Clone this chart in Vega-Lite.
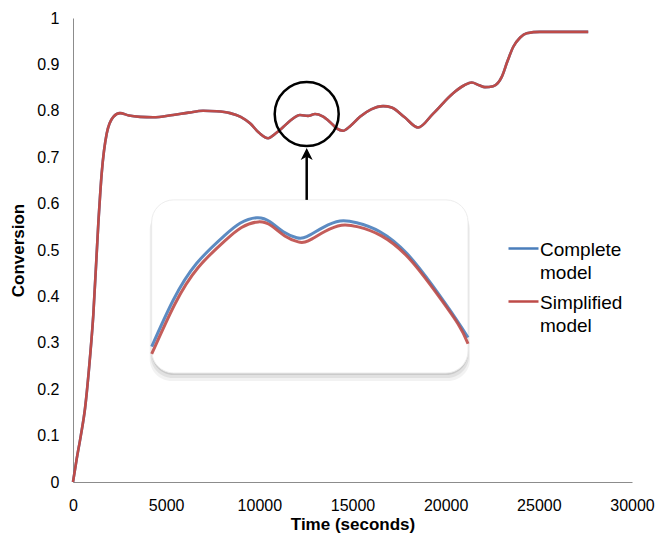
{
  "$schema": "https://vega.github.io/schema/vega-lite/v6.json",
  "width": 559,
  "height": 464,
  "autosize": {"type": "none"},
  "padding": {"left": 73, "top": 18, "right": 23, "bottom": 53},
  "background": "white",
  "config": {
    "view": {"stroke": null},
    "font": "Liberation Sans",
    "axis": {
      "domainColor": "#8c8c8c",
      "domainWidth": 1,
      "ticks": false,
      "grid": false,
      "labelFlush": false,
      "labelFont": "Liberation Sans",
      "labelFontSize": 16,
      "labelColor": "#000000",
      "titleFont": "Liberation Sans",
      "titleFontSize": 17,
      "titleFontWeight": "bold",
      "titleColor": "#000000"
    }
  },
  "datasets": {
    "main": [
      {"t": 0, "Complete model": 0, "Simplified model": 0},
      {"t": 200, "Complete model": 0.05, "Simplified model": 0.05},
      {"t": 420, "Complete model": 0.1, "Simplified model": 0.1},
      {"t": 650, "Complete model": 0.16, "Simplified model": 0.16},
      {"t": 850, "Complete model": 0.24, "Simplified model": 0.24},
      {"t": 1090, "Complete model": 0.36, "Simplified model": 0.36},
      {"t": 1360, "Complete model": 0.558, "Simplified model": 0.558},
      {"t": 1540, "Complete model": 0.665, "Simplified model": 0.665},
      {"t": 1810, "Complete model": 0.751, "Simplified model": 0.751},
      {"t": 2165, "Complete model": 0.787, "Simplified model": 0.787},
      {"t": 2520, "Complete model": 0.795, "Simplified model": 0.795},
      {"t": 3000, "Complete model": 0.79, "Simplified model": 0.79},
      {"t": 3600, "Complete model": 0.787, "Simplified model": 0.787},
      {"t": 4300, "Complete model": 0.786, "Simplified model": 0.786},
      {"t": 5370, "Complete model": 0.791, "Simplified model": 0.791},
      {"t": 6200, "Complete model": 0.796, "Simplified model": 0.796},
      {"t": 6980, "Complete model": 0.8, "Simplified model": 0.8},
      {"t": 7700, "Complete model": 0.799, "Simplified model": 0.799},
      {"t": 8430, "Complete model": 0.795, "Simplified model": 0.795},
      {"t": 9000, "Complete model": 0.787, "Simplified model": 0.787},
      {"t": 9500, "Complete model": 0.773, "Simplified model": 0.773},
      {"t": 10000, "Complete model": 0.752, "Simplified model": 0.752},
      {"t": 10470, "Complete model": 0.741, "Simplified model": 0.741},
      {"t": 10900, "Complete model": 0.752, "Simplified model": 0.752},
      {"t": 11280, "Complete model": 0.765, "Simplified model": 0.765},
      {"t": 11700, "Complete model": 0.78, "Simplified model": 0.78},
      {"t": 12180, "Complete model": 0.791, "Simplified model": 0.791},
      {"t": 12610, "Complete model": 0.789, "Simplified model": 0.789},
      {"t": 12990, "Complete model": 0.793, "Simplified model": 0.793},
      {"t": 13400, "Complete model": 0.788, "Simplified model": 0.788},
      {"t": 13790, "Complete model": 0.776, "Simplified model": 0.776},
      {"t": 14150, "Complete model": 0.762, "Simplified model": 0.762},
      {"t": 14490, "Complete model": 0.757, "Simplified model": 0.757},
      {"t": 14900, "Complete model": 0.768, "Simplified model": 0.768},
      {"t": 15400, "Complete model": 0.787, "Simplified model": 0.787},
      {"t": 16000, "Complete model": 0.803, "Simplified model": 0.803},
      {"t": 16640, "Complete model": 0.81, "Simplified model": 0.81},
      {"t": 17100, "Complete model": 0.807, "Simplified model": 0.807},
      {"t": 17800, "Complete model": 0.786, "Simplified model": 0.786},
      {"t": 18520, "Complete model": 0.764, "Simplified model": 0.764},
      {"t": 19330, "Complete model": 0.794, "Simplified model": 0.794},
      {"t": 20400, "Complete model": 0.838, "Simplified model": 0.838},
      {"t": 21000, "Complete model": 0.855, "Simplified model": 0.855},
      {"t": 21400, "Complete model": 0.861, "Simplified model": 0.861},
      {"t": 21800, "Complete model": 0.855, "Simplified model": 0.855},
      {"t": 22110, "Complete model": 0.851, "Simplified model": 0.851},
      {"t": 22550, "Complete model": 0.853, "Simplified model": 0.853},
      {"t": 23010, "Complete model": 0.873, "Simplified model": 0.873},
      {"t": 23300, "Complete model": 0.905, "Simplified model": 0.905},
      {"t": 23630, "Complete model": 0.938, "Simplified model": 0.938},
      {"t": 24000, "Complete model": 0.958, "Simplified model": 0.958},
      {"t": 24350, "Complete model": 0.967, "Simplified model": 0.967},
      {"t": 25060, "Complete model": 0.97, "Simplified model": 0.97},
      {"t": 26000, "Complete model": 0.97, "Simplified model": 0.97},
      {"t": 27650, "Complete model": 0.97, "Simplified model": 0.97}
    ],
    "inset": [
      {"series": "Complete model", "t": 4224, "c": 0.2916},
      {"series": "Complete model", "t": 5383, "c": 0.3922},
      {"series": "Complete model", "t": 6639, "c": 0.4713},
      {"series": "Complete model", "t": 8067, "c": 0.5287},
      {"series": "Complete model", "t": 8963, "c": 0.5575},
      {"series": "Complete model", "t": 9859, "c": 0.5696},
      {"series": "Complete model", "t": 10573, "c": 0.561},
      {"series": "Complete model", "t": 11287, "c": 0.5394},
      {"series": "Complete model", "t": 12006, "c": 0.5265},
      {"series": "Complete model", "t": 12543, "c": 0.5287},
      {"series": "Complete model", "t": 13434, "c": 0.5489},
      {"series": "Complete model", "t": 14330, "c": 0.5625},
      {"series": "Complete model", "t": 15226, "c": 0.5588},
      {"series": "Complete model", "t": 16477, "c": 0.5394},
      {"series": "Complete model", "t": 17910, "c": 0.4929},
      {"series": "Complete model", "t": 19337, "c": 0.4209},
      {"series": "Complete model", "t": 20593, "c": 0.3491},
      {"series": "Complete model", "t": 21200, "c": 0.3114},
      {"series": "Simplified model", "t": 4224, "c": 0.276},
      {"series": "Simplified model", "t": 5463, "c": 0.3832},
      {"series": "Simplified model", "t": 6719, "c": 0.4623},
      {"series": "Simplified model", "t": 8147, "c": 0.5197},
      {"series": "Simplified model", "t": 9043, "c": 0.5485},
      {"series": "Simplified model", "t": 9939, "c": 0.5606},
      {"series": "Simplified model", "t": 10653, "c": 0.552},
      {"series": "Simplified model", "t": 11367, "c": 0.5304},
      {"series": "Simplified model", "t": 12086, "c": 0.5175},
      {"series": "Simplified model", "t": 12623, "c": 0.5197},
      {"series": "Simplified model", "t": 13514, "c": 0.5399},
      {"series": "Simplified model", "t": 14410, "c": 0.5535},
      {"series": "Simplified model", "t": 15306, "c": 0.5498},
      {"series": "Simplified model", "t": 16557, "c": 0.5304},
      {"series": "Simplified model", "t": 17990, "c": 0.4839},
      {"series": "Simplified model", "t": 19417, "c": 0.4119},
      {"series": "Simplified model", "t": 20673, "c": 0.3401},
      {"series": "Simplified model", "t": 21200, "c": 0.298}
    ],
    "box": [{"t1": 4224, "t2": 21200, "c1": 0.608, "c2": 0.235}],
    "focus": [{"t": 12542, "c": 0.793}],
    "arrow": [{"t": 12542, "c1": 0.608, "c2": 0.702, "tip": 0.7067}]
  },
  "layer": [
    {
      "data": {"name": "box"},
      "mark": {"type": "rect", "cornerRadius": 22, "fill": "#808080", "opacity": 0.1, "yOffset": 8, "y2Offset": 8, "xOffset": -2, "x2Offset": 2},
      "encoding": {
        "x": {"field": "t1", "type": "quantitative", "scale": {"domain": [0, 30000], "nice": false}},
        "x2": {"field": "t2"},
        "y": {"field": "c1", "type": "quantitative", "scale": {"domain": [0, 1], "nice": false}},
        "y2": {"field": "c2"}
      }
    },
    {
      "data": {"name": "box"},
      "mark": {"type": "rect", "cornerRadius": 22, "fill": "#808080", "opacity": 0.14, "yOffset": 5, "y2Offset": 5, "xOffset": -1, "x2Offset": 1},
      "encoding": {
        "x": {"field": "t1", "type": "quantitative"},
        "x2": {"field": "t2"},
        "y": {"field": "c1", "type": "quantitative"},
        "y2": {"field": "c2"}
      }
    },
    {
      "data": {"name": "box"},
      "mark": {"type": "rect", "cornerRadius": 22, "fill": "#707070", "opacity": 0.2, "yOffset": 2, "y2Offset": 2},
      "encoding": {
        "x": {"field": "t1", "type": "quantitative"},
        "x2": {"field": "t2"},
        "y": {"field": "c1", "type": "quantitative"},
        "y2": {"field": "c2"}
      }
    },
    {
      "data": {"name": "box"},
      "mark": {"type": "rect", "cornerRadius": 22, "fill": "white", "stroke": "#ededed", "strokeWidth": 1},
      "encoding": {
        "x": {"field": "t1", "type": "quantitative"},
        "x2": {"field": "t2"},
        "y": {"field": "c1", "type": "quantitative"},
        "y2": {"field": "c2"}
      }
    },
    {
      "data": {"name": "inset"},
      "mark": {"type": "line", "interpolate": "natural", "strokeWidth": 3, "opacity": 0.9},
      "encoding": {
        "x": {"field": "t", "type": "quantitative"},
        "y": {"field": "c", "type": "quantitative"},
        "color": {"field": "series", "type": "nominal"}
      }
    },
    {
      "data": {"name": "main"},
      "transform": [{"fold": ["Complete model", "Simplified model"], "as": ["series", "c"]}],
      "mark": {"type": "line", "interpolate": "monotone", "strokeWidth": 2.6},
      "encoding": {
        "x": {
          "field": "t", "type": "quantitative",
          "axis": {"title": "Time (seconds)", "values": [0, 5000, 10000, 15000, 20000, 25000, 30000], "format": "d", "labelPadding": 15, "titlePadding": 3}
        },
        "y": {
          "field": "c", "type": "quantitative",
          "axis": {"title": "Conversion", "values": [0, 0.1, 0.2, 0.3, 0.4, 0.5, 0.6, 0.7, 0.8, 0.9, 1], "format": "~g", "labelPadding": 14, "titlePadding": 9}
        },
        "color": {
          "field": "series", "type": "nominal",
          "scale": {"domain": ["Complete model", "Simplified model"], "range": ["#4a7ebb", "#be4b48"]},
          "legend": {
            "title": null,
            "orient": "none",
            "legendX": 434,
            "legendY": 214,
            "symbolType": "stroke",
            "symbolSize": 900,
            "symbolStrokeWidth": 2.5,
            "labelFont": "Liberation Sans",
            "labelFontSize": 19,
            "labelColor": "#000000",
            "labelOffset": 0,
            "labelLimit": 300,
            "labelBaseline": "top",
            "rowPadding": 2,
            "labelExpr": "split(datum.label, ' ')",
            "encode": {"labels": {"update": {"dy": {"value": -8}, "lineHeight": {"value": 23}}}}
          }
        }
      }
    },
    {
      "data": {"name": "focus"},
      "mark": {"type": "point", "shape": "circle", "size": 4096, "filled": false, "stroke": "#000000", "strokeWidth": 2.5, "opacity": 1},
      "encoding": {
        "x": {"field": "t", "type": "quantitative"},
        "y": {"field": "c", "type": "quantitative"}
      }
    },
    {
      "data": {"name": "arrow"},
      "mark": {"type": "rule", "stroke": "#000000", "strokeWidth": 2.5},
      "encoding": {
        "x": {"field": "t", "type": "quantitative"},
        "y": {"field": "c1", "type": "quantitative"},
        "y2": {"field": "c2"}
      }
    },
    {
      "data": {"name": "arrow"},
      "mark": {"type": "point", "shape": "M0,-1L1,1L0,0.45L-1,1Z", "size": 144, "filled": true, "fill": "#000000", "strokeWidth": 0, "opacity": 1},
      "encoding": {
        "x": {"field": "t", "type": "quantitative"},
        "y": {"field": "tip", "type": "quantitative"}
      }
    }
  ]
}
